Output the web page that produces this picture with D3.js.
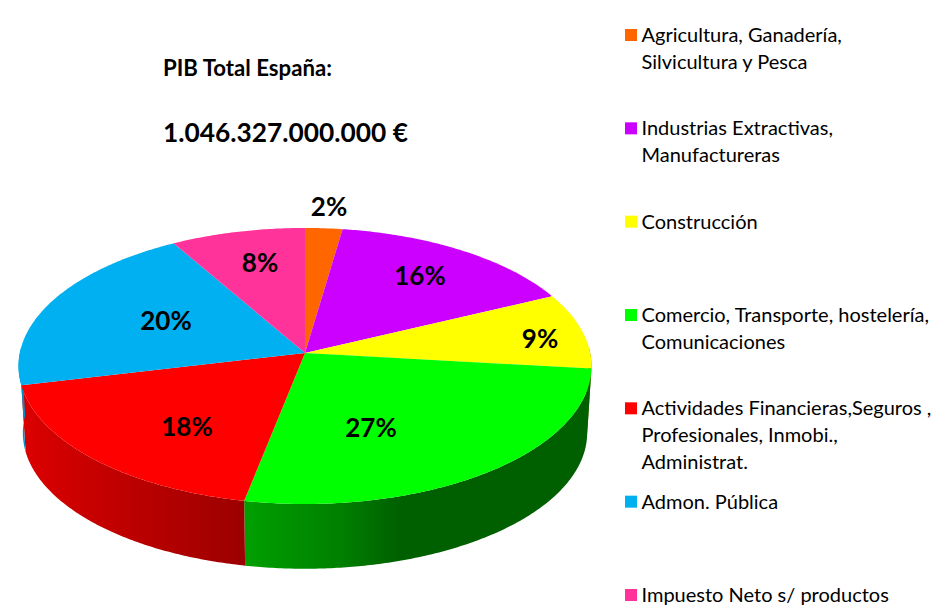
<!DOCTYPE html>
<html>
<head>
<meta charset="utf-8">
<script src="https://cdn.jsdelivr.net/npm/d3@7"></script>
<style>
  html, body { margin: 0; padding: 0; background: #fff; }
  svg { display: block; }
  text { font-family: Lato, "Open Sans", sans-serif; fill: #000; }
</style>
</head>
<body>
<div id="main"></div>
<script>
// Data
var sectors = ['Agricultura', 'Industrias', 'Construccion', 'Comercio', 'Financieras', 'Admon', 'Impuesto'];
var shares = [2.3, 15.6, 8.9, 26.3, 18.2, 20.4, 8.3];
var shareLabels = ['2%', '16%', '9%', '27%', '18%', '20%', '8%'];
var topColors = ['#ff6600', '#cc00ff', '#ffff00', '#00ff00', '#ff0000', '#00b0f0', '#ff3399'];
var legendLines = [
  ['Agricultura, Ganadería,', 'Silvicultura y Pesca'],
  ['Industrias Extractivas,', 'Manufactureras'],
  ['Construcción'],
  ['Comercio, Transporte, hostelería,', 'Comunicaciones'],
  ['Actividades Financieras,Seguros ,', 'Profesionales, Inmobi.,', 'Administrat.'],
  ['Admon. Pública'],
  ['Impuesto Neto s/ productos']
];
var titleLines = ['PIB Total España:', '1.046.327.000.000 €'];

var width = 950;
var height = 608;

var svg = d3.select('#main')
  .append('svg')
  .attr('width', width)
  .attr('height', height);

// perspective ellipse: apex is not at the middle of the ellipse
var cx = 305, cy = 353;
var rx = 285.2, ry = 136.8, k = 0.094;
var depth = 67, bottomScale = 0.985;

function project(theta, r, scale, dy) {
  var px = r * Math.sin(theta);
  var py = -r * Math.cos(theta);
  var d = 1 - k * py;
  return [cx + rx * scale * px / d, cy + dy + ry * scale * py / d];
}

function arcPoints(a0, a1, scale, dy) {
  var n = Math.max(2, Math.ceil((a1 - a0) / 0.01));
  return d3.range(n + 1).map(function(i) {
    return project(a0 + (a1 - a0) * i / n, 1, scale, dy);
  });
}

var line = d3.line();

var pie = d3.pie().sort(null).value(function(d) { return d; });
var slices = pie(shares);

// gradients for the side wall
var defs = svg.append('defs');

function wallGradient(id, stops) {
  var g = defs.append('linearGradient')
    .attr('id', id)
    .attr('gradientUnits', 'userSpaceOnUse')
    .attr('x1', 0).attr('x2', width).attr('y1', 0).attr('y2', 0);
  stops.forEach(function(s) {
    g.append('stop').attr('offset', s[0] / width).attr('stop-color', s[1]);
  });
}

wallGradient('wall-green', [[244, '#00a000'], [340, '#008000'], [400, '#006000'], [592, '#006000']]);
wallGradient('wall-red', [[20, '#dc0000'], [244, '#9c0000']]);
wallGradient('wall-blue', [[18, '#0090c8'], [30, '#0090c8']]);
wallGradient('wall-yellow', [[580, '#808000'], [592, '#808000']]);

var wallFills = { 2: 'url(#wall-yellow)', 3: 'url(#wall-green)', 4: 'url(#wall-red)', 5: 'url(#wall-blue)' };

// only the front part of the wall can be seen
var wallFrom = 88 * Math.PI / 180;
var wallTo = 272 * Math.PI / 180;

svg.append('g')
  .selectAll('path')
  .data(slices.filter(function(d) {
    return d.endAngle > wallFrom && d.startAngle < wallTo;
  }))
  .enter().append('path')
  .attr('fill', function(d) { return wallFills[d.index]; })
  .attr('d', function(d) {
    var a0 = Math.max(d.startAngle, wallFrom);
    var a1 = Math.min(d.endAngle, wallTo);
    var upper = arcPoints(a0, a1, 1, 0);
    var lower = arcPoints(a0, a1, bottomScale, depth).reverse();
    return line(upper.concat(lower)) + 'Z';
  });

// top face
svg.append('g')
  .selectAll('path')
  .data(slices)
  .enter().append('path')
  .attr('fill', function(d) { return topColors[d.index]; })
  .attr('d', function(d) {
    return line([[cx, cy]].concat(arcPoints(d.startAngle, d.endAngle, 1, 0))) + 'Z';
  });

// labels were placed by hand in the original, so they are not on the slice middle
var labelXY = [[329, 207], [420, 276], [540, 339], [371, 428], [187, 427], [166, 321], [260, 263]];

svg.append('g')
  .selectAll('text')
  .data(shareLabels)
  .enter().append('text')
  .attr('x', function(d, i) { return labelXY[i][0]; })
  .attr('y', function(d, i) { return labelXY[i][1]; })
  .attr('dy', '0.35em')
  .attr('text-anchor', 'middle')
  .attr('font-weight', 700)
  .attr('font-size', 26)
  .text(function(d) { return d; });

// title
svg.append('text')
  .attr('x', 163).attr('y', 76)
  .attr('font-weight', 700)
  .attr('font-size', 22.2)
  .text(titleLines[0]);

svg.append('text')
  .attr('x', 163).attr('y', 142)
  .attr('font-weight', 700)
  .attr('font-size', 26.3)
  .text(titleLines[1]);

// legend
var legendY = d3.scalePoint()
  .domain(sectors)
  .range([35, 595]);

var legend = svg.append('g')
  .selectAll('g')
  .data(sectors)
  .enter().append('g')
  .attr('transform', function(d) { return 'translate(625,' + legendY(d) + ')'; });

legend.append('rect')
  .attr('y', -6)
  .attr('width', 12)
  .attr('height', 12)
  .attr('fill', function(d, i) { return topColors[i]; });

legend.append('text')
  .attr('font-size', 20)
  .selectAll('tspan')
  .data(function(d, i) { return legendLines[i]; })
  .enter().append('tspan')
  .attr('x', 16.5)
  .attr('y', function(d, i) { return 7 + i * 26.8; })
  .text(function(d) { return d; });
</script>
</body>
</html>
